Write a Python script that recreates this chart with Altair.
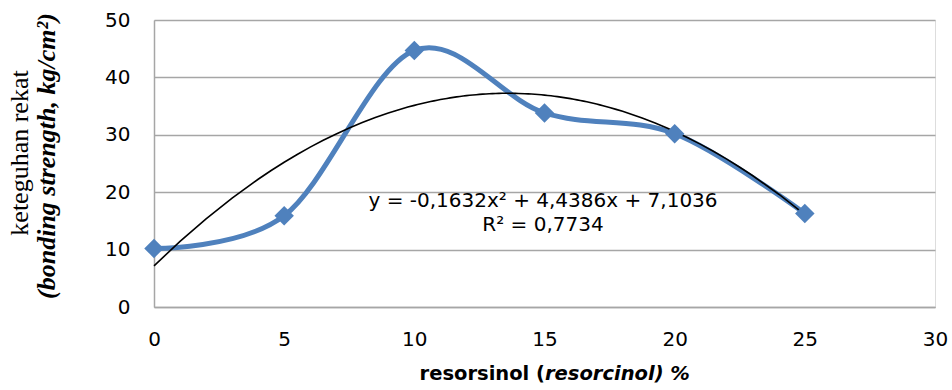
import altair as alt
import pandas as pd

# data
resorsinol = [0, 5, 10, 15, 20, 25]
keteguhan = [10.2, 15.9, 44.7, 33.8, 30.2, 16.3]
x_ticks = [0, 5, 10, 15, 20, 25, 30]
y_ticks = [0, 10, 20, 30, 40, 50]
eq_line1 = "y = -0,1632x² + 4,4386x + 7,1036"
eq_line2 = "R² = 0,7734"
ytitle1 = "keteguhan rekat"
ytitle2 = "(bonding strength, kg/cm²)"
xtitle1 = "resorsinol ("
xtitle2 = "resorcinol) %"

df = pd.DataFrame({"x": resorsinol, "y": keteguhan})

W, H = 781, 287
SANS = "DejaVu Sans"
SERIF = "Liberation Serif"
GRID = "#A6A6A6"

xsc = alt.Scale(domain=[0, 30], nice=False)
ysc = alt.Scale(domain=[0, 50], nice=False)

xax = alt.Axis(values=x_ticks, grid=False, ticks=False, domainColor=GRID, domainWidth=1.5,
               labelFont=SANS, labelFontSize=20, labelColor="black", labelPadding=22,
               labelFlush=False, title=None)
yax = alt.Axis(values=y_ticks, grid=True, gridColor=GRID, gridWidth=1.5, ticks=False,
               domainColor=GRID, domainWidth=1.5, labelFont=SANS, labelFontSize=20,
               labelColor="black", labelPadding=24, title=None)

base = alt.Chart(df)

line = base.mark_line(color="#4F81BD", strokeWidth=5, interpolate="cardinal").encode(
    x=alt.X("x:Q", scale=xsc, axis=xax),
    y=alt.Y("y:Q", scale=ysc, axis=yax),
)

pts = base.mark_point(shape="diamond", filled=True, size=380, color="#4F81BD", opacity=1).encode(
    x=alt.X("x:Q", scale=xsc),
    y=alt.Y("y:Q", scale=ysc),
)

trend = base.transform_regression("x", "y", method="poly", order=2, extent=[0, 25]).mark_line(
    color="black", strokeWidth=1.6
).encode(
    x=alt.X("x:Q", scale=xsc),
    y=alt.Y("y:Q", scale=ysc),
)


def txt(s, x, y, font=SANS, size=17, weight="normal", style="normal", angle=0, align="center"):
    return alt.Chart(pd.DataFrame({"t": [s]})).mark_text(
        font=font, fontSize=size, fontWeight=weight, fontStyle=style, angle=angle,
        align=align, baseline="middle", color="black"
    ).encode(text="t:N", x=alt.value(x), y=alt.value(y))


eq1 = txt(eq_line1, 389, 181, size=20)
eq2 = txt(eq_line2, 389, 205, size=20)
yt1 = txt(ytitle1, -134, 133, font=SERIF, size=26, angle=270)
yt2 = txt(ytitle2, -107, 136, font=SERIF, size=26, weight="bold", style="italic", angle=270)
xt1 = txt(xtitle1, 391, 354, size=19.5, weight="bold", align="right")
xt2 = txt(xtitle2, 391, 354, size=19.5, weight="bold", style="italic", align="left")

chart = alt.layer(line, trend, pts, eq1, eq2, yt1, yt2, xt1, xt2).properties(
    width=W, height=H,
    autosize=alt.AutoSizeParams(type="none"),
    padding={"left": 154, "top": 20, "right": 17, "bottom": 83},
).configure_view(stroke=None).configure(background="white")

chart.save("out.html", embed_options={"renderer": "svg", "actions": False})
